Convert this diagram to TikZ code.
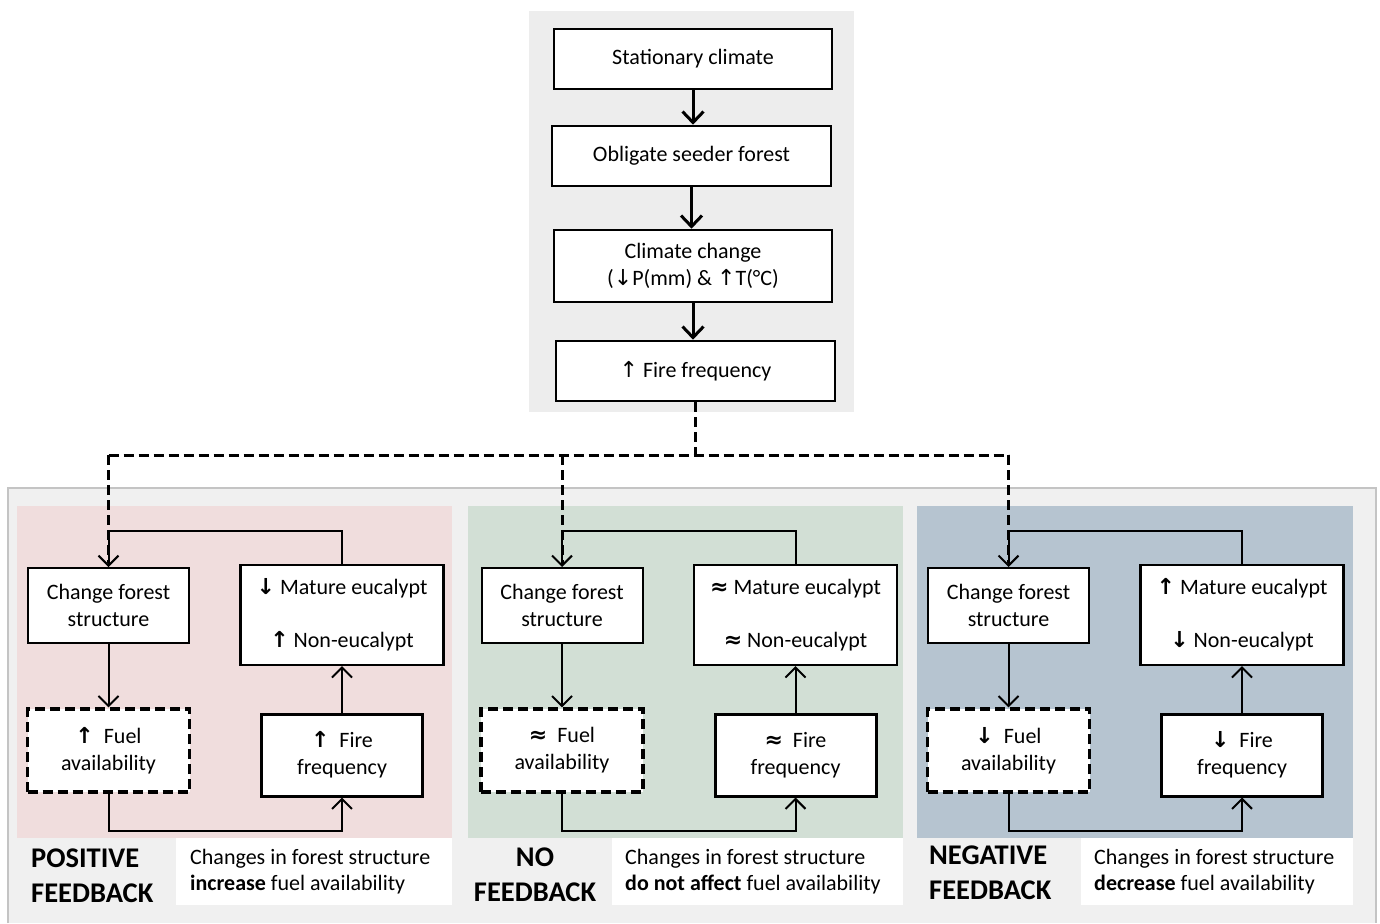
\documentclass[tikz,border=0pt]{standalone}
\usepackage{fontspec}
\setmainfont{Carlito}
\newfontfamily\arr{DejaVu Sans}
\usetikzlibrary{arrows.meta}
\definecolor{topgrey}{RGB}{237,237,237}
\definecolor{panelgrey}{RGB}{240,240,240}
\definecolor{bordergrey}{RGB}{196,196,196}
\definecolor{pinkp}{RGB}{240,221,221}
\definecolor{greenp}{RGB}{210,223,213}
\definecolor{bluep}{RGB}{182,196,208}
\newcommand\myup{{\arr\bfseries ↑}}
\newcommand\mydn{{\arr\bfseries ↓}}
\newcommand\myap{{\arr\bfseries ≈}}
\begin{document}
\begin{tikzpicture}[x=1pt,y=-1pt,
  txt/.style={font=\fontsize{22}{27}\selectfont, inner sep=0pt},
  topbox/.style={txt, draw, line width=2.6pt, fill=white, minimum width=278pt, minimum height=60pt, align=center},
  cbox/.style={txt, draw, line width=2pt, fill=white, minimum width=161pt, minimum height=75pt, align=center},
  mbox/.style={txt, draw, line width=2.2pt, fill=white, minimum width=203pt, minimum height=100pt, align=center},
  fbox/.style={txt, draw, line width=3.2pt, dash pattern=on 10pt off 5pt, fill=white, minimum width=162pt, minimum height=83pt, align=center},
  rbox/.style={txt, draw, line width=3pt, fill=white, minimum width=161pt, minimum height=82pt, align=center},
  toparrow/.style={line width=3pt, -{Straight Barb[length=11pt,width=21pt]}},
  conn/.style={line width=2pt, -{Straight Barb[length=10pt,width=20pt]}},
  dashline/.style={line width=3pt, dash pattern=on 10pt off 5pt},
  fbtitle/.style={font=\fontsize{28.5}{35}\selectfont\bfseries, inner sep=0pt, align=left},
  labeltxt/.style={inner sep=0pt, font=\fontsize{22}{26}\selectfont, align=left, anchor=west}
]
\useasboundingbox (0,0) rectangle (1380,923);
\fill[white] (0,0) rectangle (1380,923);
\fill[topgrey] (529,11) rectangle (854,412);
\fill[panelgrey] (8,488) rectangle (1376,923);
\draw[line width=2.5pt, bordergrey] (8,923) -- (8,488) -- (1376,488) -- (1376,923);
\fill[pinkp] (17,506) rectangle (452,838);
\fill[greenp] (468,506) rectangle (903,838);
\fill[bluep] (917,506) rectangle (1353,838);
\fill[white] (176,838) rectangle (452,905);
\fill[white] (612,838) rectangle (903,905);
\fill[white] (1081,838) rectangle (1353,905);

% top chain
\node[topbox] (s) at (693,59) {Stationary climate};
\node[topbox, minimum width=279pt] (o) at (691.5,156) {Obligate seeder forest};
\node[topbox, minimum height=72pt] (cc) at (693,266) {Climate change\\({\arr↓}P(mm) \& {\arr↑}T(°C)};
\node[topbox, minimum width=279pt] (ff) at (695.5,371) {{\arr↑} Fire frequency};
\draw[toparrow] (s.south) -- (s.south |- o.north);
\draw[toparrow] (o.south) -- (o.south |- cc.north);
\draw[toparrow] (cc.south) -- (cc.south |- ff.north);

% feedback panels
\foreach \i/\lx/\rx/\symA/\symB/\symC in {1/108.5/342/\mydn/\myup/\myup, 2/562/795.5/\myap/\myap/\myap, 3/1008.5/1242/\myup/\mydn/\mydn} {
  \node[cbox] (c\i) at (\lx,605.5) {Change forest\\structure};
  \node[mbox] (m\i) at (\rx,615) {\symA\ Mature eucalypt\\[26pt]\symB\ Non-eucalypt};
  \node[fbox] (f\i) at (\lx,750.5) {\symC\ \ Fuel\\availability};
  \node[rbox] (r\i) at (\rx,755) {\symC\ \ Fire\\frequency};
  \draw[conn] (c\i.south) -- (f\i.north);
  \draw[conn] (f\i.south) -- ++(0,37) -| (r\i.south);
  \draw[conn] (r\i.north) -- (r\i.north |- m\i.south);
  \draw[conn] (m\i.north) -- ++(0,-33) -| (c\i.north);
}

% dashed distribution
\coordinate (jy) at (0,455);
\coordinate (j) at (ff.south |- jy);
\draw[dashline] (ff.south) -- (j);
\draw[dashline] (c1.north |- jy) -- (c3.north |- jy);
\draw[dashline, shorten >=4pt] (c1.north |- jy) -- (c1.north);
\draw[dashline, shorten >=4pt] (c2.north |- jy) -- (c2.north);
\draw[dashline, shorten >=4pt] (c3.north |- jy) -- (c3.north);

% titles and labels
\node[fbtitle, anchor=west] (t1) at (31,875.5) {POSITIVE\\FEEDBACK};
\node[fbtitle, align=center] (t2) at (535,874.5) {NO\\FEEDBACK};
\node[fbtitle, anchor=west] (t3) at (929,872.5) {NEGATIVE\\FEEDBACK};
\node[labeltxt] (l1) at (190,872) {Changes in forest structure\\\textbf{increase} fuel availability};
\node[labeltxt] (l2) at (625,872) {Changes in forest structure\\\textbf{do not affect} fuel availability};
\node[labeltxt] (l3) at (1094,872) {Changes in forest structure\\\textbf{decrease} fuel availability};
\end{tikzpicture}
\end{document}
